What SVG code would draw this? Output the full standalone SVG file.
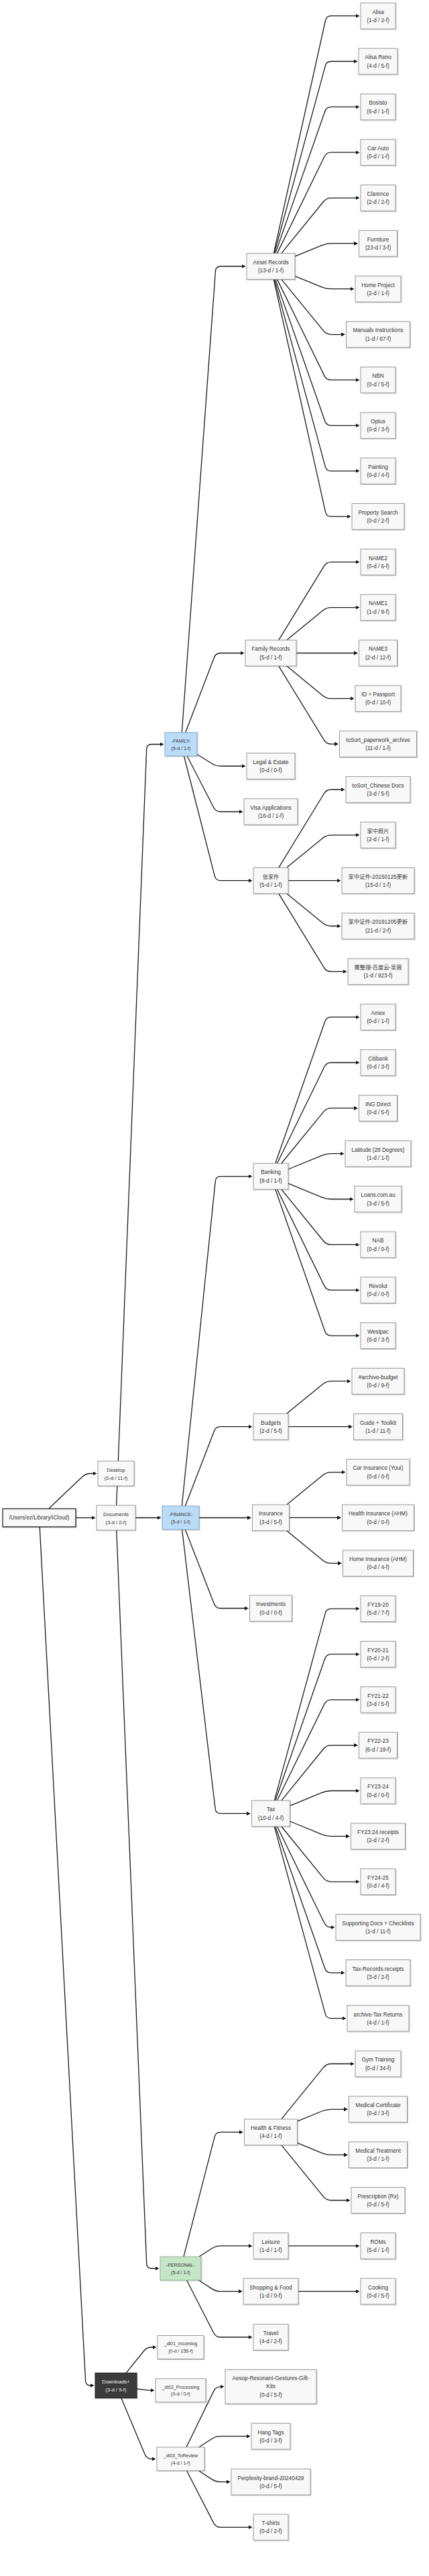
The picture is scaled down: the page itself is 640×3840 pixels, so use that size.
<svg xmlns="http://www.w3.org/2000/svg" width="640" height="3840" viewBox="0 0 640 3840">
<defs>
<style>
.n rect{fill:#f8f8f8;stroke:#999;stroke-width:1;filter:url(#sh)}
.n text{font-family:"Liberation Sans","Noto Sans CJK SC",Arial,sans-serif;font-size:8.2px;fill:#333;text-anchor:middle}
.s text{font-size:7.5px}
.x text{font-size:7px}
.blue rect{fill:#bbdcf8;stroke:#86a6c2}
.green rect{fill:#c6e6c8;stroke:#8fae90}
.dark rect{fill:#3a3a3a;stroke:#222}
.dark text{fill:#f2f2f2}
.root rect{stroke:#333;stroke-width:1.4}
#edges path{fill:none;stroke:#1a1a1a;stroke-width:1.3;marker-end:url(#arr)}
</style>
<filter id="sh" x="-10%" y="-10%" width="130%" height="140%"><feDropShadow dx="0.9" dy="0.9" stdDeviation="0.6" flood-color="#000" flood-opacity="0.25"/></filter>
<marker id="arr" viewBox="0 0 6 6" refX="2" refY="3" markerWidth="6" markerHeight="6" markerUnits="userSpaceOnUse" orient="auto"><path d="M0,0 L6,3 L0,6 z" fill="#111"/></marker>
</defs>
<rect width="640" height="3840" fill="#ffffff"/>
<g id="edges">
<path d="M72.7,2249 L122.9,2201.3 Q128,2196.5 135,2196.5 L140.5,2196.5"/>
<path d="M113,2262.5 L138.5,2262.5"/>
<path d="M59.2,2276 L127.6,3549 Q128,3556 135,3556 L136.5,3556"/>
<path d="M173.7,2244 L218.7,1116.5 Q219,1109.5 226,1109.5 L240.5,1109.5"/>
<path d="M202,2262.5 L236.5,2262.5"/>
<path d="M173.8,2281 L218.7,3374.5 Q219,3381.5 226,3381.5 L233.5,3381.5"/>
<path d="M188.1,3537.3 L214.6,3504.5 Q219,3499 226,3499 L229.5,3499"/>
<path d="M204,3561 L212.1,3562.2 Q219,3563.3 226,3563.3 L226.5,3563.3"/>
<path d="M180.9,3574.7 L216.3,3659 Q219,3665.5 226,3665.5 L228.5,3665.5"/>
<path d="M271.3,1092 L321.5,404 Q322,397 329,397 L362.5,397"/>
<path d="M276.7,1092 L319.5,980 Q322,973.5 329,973.5 L360.5,973.5"/>
<path d="M294,1124.5 L316.1,1138.3 Q322,1142 329,1142 L362.5,1142"/>
<path d="M279.1,1127 L318.8,1203.8 Q322,1210 329,1210 L358.5,1210"/>
<path d="M274.5,1127 L320.3,1305.9 Q322,1312.7 329,1312.7 L372.5,1312.7"/>
<path d="M271.3,2245 L321.3,1760.6 Q322,1753.6 329,1753.6 L372.5,1753.6"/>
<path d="M276.3,2245 L319.5,2133.2 Q322,2126.7 329,2126.7 L372.5,2126.7"/>
<path d="M297,2262.5 L371,2262.5"/>
<path d="M276.3,2280 L319.5,2391 Q322,2397.5 329,2397.5 L366.8,2397.5"/>
<path d="M271.6,2280 L321.2,2696.5 Q322,2703.4 329,2703.4 L369.8,2703.4"/>
<path d="M274,3364 L320.2,3185.1 Q322,3178.3 329,3178.3 L358.8,3178.3"/>
<path d="M296.9,3364 L316.1,3351.7 Q322,3347.9 329,3347.9 L372.5,3347.9"/>
<path d="M296.4,3399 L316.1,3411.9 Q322,3415.7 329,3415.7 L357.8,3415.7"/>
<path d="M278.5,3399 L318.8,3477.8 Q322,3484 329,3484 L372.5,3484"/>
<path d="M278,3648 L318.9,3564.1 Q322,3557.8 329,3557.8 L330.5,3557.8"/>
<path d="M296.7,3648 L316.1,3635.5 Q322,3631.7 329,3631.7 L369.5,3631.7"/>
<path d="M296.4,3683 L316.1,3695.9 Q322,3699.7 329,3699.7 L339.8,3699.7"/>
<path d="M278.5,3683 L318.8,3761.1 Q322,3767.3 329,3767.3 L372.5,3767.3"/>
<path d="M408.3,377.65 L485.5,30.5 Q487,23.7 494,23.7 L532.5,23.7"/>
<path d="M409.3,377.65 L485.2,98.3 Q487,91.5 494,91.5 L529.5,91.5"/>
<path d="M410.8,377.65 L484.7,166 Q487,159.4 494,159.4 L532.5,159.4"/>
<path d="M413.5,377.65 L483.9,233.5 Q487,227.2 494,227.2 L532.5,227.2"/>
<path d="M419.8,377.65 L482.6,300.5 Q487,295.1 494,295.1 L532.5,295.1"/>
<path d="M440,382.2 L480.5,365.6 Q487,362.9 494,362.9 L530,362.9"/>
<path d="M440,411.6 L480.5,428.1 Q487,430.7 494,430.7 L524.5,430.7"/>
<path d="M419.8,416.35 L482.6,493.2 Q487,498.6 494,498.6 L511,498.6"/>
<path d="M413.5,416.35 L483.9,560.1 Q487,566.4 494,566.4 L532.5,566.4"/>
<path d="M410.8,416.35 L484.7,627.7 Q487,634.3 494,634.3 L532.5,634.3"/>
<path d="M409.3,416.35 L485.2,695.3 Q487,702.1 494,702.1 L532.5,702.1"/>
<path d="M408.3,416.35 L485.5,763.1 Q487,769.9 494,769.9 L519.5,769.9"/>
<path d="M415.8,954.15 L483.4,843.8 Q487,837.8 494,837.8 L532.5,837.8"/>
<path d="M427.7,954.15 L481.6,910 Q487,905.6 494,905.6 L532.5,905.6"/>
<path d="M442,973.5 L530,973.5"/>
<path d="M427.7,992.85 L481.6,1036.9 Q487,1041.3 494,1041.3 L524.5,1041.3"/>
<path d="M415.8,992.85 L483.4,1103.1 Q487,1109.1 494,1109.1 L501,1109.1"/>
<path d="M415.8,1293.35 L483.4,1183 Q487,1177 494,1177 L510.5,1177"/>
<path d="M427.7,1293.35 L481.6,1249.2 Q487,1244.8 494,1244.8 L532.5,1244.8"/>
<path d="M430,1312.7 L504.5,1312.7"/>
<path d="M427.7,1332.05 L481.6,1376.1 Q487,1380.5 494,1380.5 L504.5,1380.5"/>
<path d="M415.8,1332.05 L483.4,1442.3 Q487,1448.3 494,1448.3 L513.5,1448.3"/>
<path d="M410.8,1734.25 L484.7,1522.8 Q487,1516.2 494,1516.2 L532.5,1516.2"/>
<path d="M413.5,1734.25 L483.9,1590.3 Q487,1584 494,1584 L532.5,1584"/>
<path d="M419.8,1734.25 L482.6,1657.3 Q487,1651.9 494,1651.9 L530,1651.9"/>
<path d="M430,1743 L480.5,1722.4 Q487,1719.7 494,1719.7 L509.5,1719.7"/>
<path d="M430,1764.2 L480.5,1784.9 Q487,1787.5 494,1787.5 L523.5,1787.5"/>
<path d="M419.8,1772.95 L482.6,1850 Q487,1855.4 494,1855.4 L532.5,1855.4"/>
<path d="M413.5,1772.95 L483.9,1916.9 Q487,1923.2 494,1923.2 L532.5,1923.2"/>
<path d="M410.8,1772.95 L484.7,1984.5 Q487,1991.1 494,1991.1 L532.5,1991.1"/>
<path d="M427.7,2107.35 L481.6,2063.3 Q487,2058.9 494,2058.9 L519.5,2058.9"/>
<path d="M430,2126.7 L522,2126.7"/>
<path d="M427.7,2243.05 L481.6,2199 Q487,2194.6 494,2194.6 L511.5,2194.6"/>
<path d="M431.5,2262.4 L505,2262.4"/>
<path d="M427.7,2281.75 L481.6,2325.9 Q487,2330.3 494,2330.3 L506,2330.3"/>
<path d="M409.3,2684.05 L485.2,2404.9 Q487,2398.1 494,2398.1 L532.5,2398.1"/>
<path d="M410.8,2684.05 L484.7,2472.5 Q487,2465.9 494,2465.9 L532.5,2465.9"/>
<path d="M413.5,2684.05 L483.9,2540.1 Q487,2533.8 494,2533.8 L532.5,2533.8"/>
<path d="M419.8,2684.05 L482.6,2607 Q487,2601.6 494,2601.6 L530,2601.6"/>
<path d="M432.5,2691.8 L480.5,2672.2 Q487,2669.5 494,2669.5 L532.5,2669.5"/>
<path d="M432.5,2715 L480.5,2734.6 Q487,2737.3 494,2737.3 L518,2737.3"/>
<path d="M419.8,2722.75 L482.6,2799.7 Q487,2805.1 494,2805.1 L532.5,2805.1"/>
<path d="M413.5,2722.75 L483.9,2866.7 Q487,2873 494,2873 L495.5,2873"/>
<path d="M410.8,2722.75 L484.7,2934.2 Q487,2940.8 494,2940.8 L510.5,2940.8"/>
<path d="M409.3,2722.75 L485.2,3001.9 Q487,3008.7 494,3008.7 L512.5,3008.7"/>
<path d="M419.8,3158.95 L482.6,3081.9 Q487,3076.5 494,3076.5 L524.5,3076.5"/>
<path d="M443.5,3162.1 L480.5,3147 Q487,3144.3 494,3144.3 L515,3144.3"/>
<path d="M443.5,3194.4 L480.5,3209.6 Q487,3212.2 494,3212.2 L515,3212.2"/>
<path d="M419.8,3197.65 L482.6,3274.6 Q487,3280 494,3280 L518.5,3280"/>
<path d="M430,3347.9 L532.5,3347.9"/>
<path d="M445,3415.7 L532.5,3415.7"/>
</g>

<g id="n-root" class="n root" transform="translate(58.5,2262.5)"><rect x="-54.5" y="-13.5" width="109" height="27"/><text y="2.9">/Users/ez/Library/iCloud)</text></g>
<g id="n-desktop" class="n s" transform="translate(173,2196.5)"><rect x="-27" y="-18.5" width="54" height="37"/><text y="-2.8">Desktop</text><text y="9">(0-d / 11-f)</text></g>
<g id="n-documents" class="n s" transform="translate(173,2262.5)"><rect x="-29" y="-18.5" width="58" height="37"/><text y="-2.8">Documents</text><text y="9">(3-d / 2-f)</text></g>
<g id="n-downloads" class="n s dark" transform="translate(173,3556)"><rect x="-31" y="-18.7" width="62" height="37.4"/><text y="-2.8">Downloads+</text><text y="9">(3-d / 9-f)</text></g>

<g id="n-family" class="n x blue" transform="translate(270,1109.5)"><rect x="-24" y="-17.5" width="48" height="35"/><text y="-2.8">-FAMILY-</text><text y="8.2">(5-d / 1-f)</text></g>
<g id="n-finance" class="n x blue" transform="translate(269.5,2262.5)"><rect x="-27.5" y="-17.5" width="55" height="35"/><text y="-2.8">-FINANCE-</text><text y="8.2">(5-d / 1-f)</text></g>
<g id="n-personal" class="n x green" transform="translate(269.5,3381.5)"><rect x="-30.5" y="-17.5" width="61" height="35"/><text y="-2.8">-PERSONAL-</text><text y="8.2">(5-d / 1-f)</text></g>
<g id="n-dl01" class="n x" transform="translate(269.5,3499)"><rect x="-34.5" y="-17.5" width="69" height="35"/><text y="-2.8">_dl01_Incoming</text><text y="8.2">(0-d / 155-f)</text></g>
<g id="n-dl02" class="n x" transform="translate(269.5,3563.3)"><rect x="-37.5" y="-17.5" width="75" height="35"/><text y="-2.8">_dl02_Processing</text><text y="8.2">(0-d / 0-f)</text></g>
<g id="n-dl03" class="n x" transform="translate(269.5,3665.5)"><rect x="-35.5" y="-17.5" width="71" height="35"/><text y="-2.8">_dl03_ToReview</text><text y="8.2">(4-d / 1-f)</text></g>

<g id="n-asset-records" class="n" transform="translate(404,397)"><rect x="-36" y="-19.35" width="72" height="38.7"/><text y="-3.2">Asset Records</text><text y="9.2">(13-d / 1-f)</text></g>
<g id="n-family-records" class="n" transform="translate(404,973.5)"><rect x="-38" y="-19.35" width="76" height="38.7"/><text y="-3.2">Family Records</text><text y="9.2">(5-d / 1-f)</text></g>
<g id="n-legal" class="n" transform="translate(404,1142)"><rect x="-36" y="-19.35" width="72" height="38.7"/><text y="-3.2">Legal &amp; Estate</text><text y="9.2">(0-d / 0-f)</text></g>
<g id="n-visa" class="n" transform="translate(404,1210)"><rect x="-40" y="-19.35" width="80" height="38.7"/><text y="-3.2">Visa Applications</text><text y="9.2">(16-d / 1-f)</text></g>
<g id="n-zhang" class="n" transform="translate(404,1312.7)"><rect x="-26" y="-19.35" width="52" height="38.7"/><text y="-3.2">张家件</text><text y="9.2">(5-d / 1-f)</text></g>
<g id="n-banking" class="n" transform="translate(404,1753.6)"><rect x="-26" y="-19.35" width="52" height="38.7"/><text y="-3.2">Banking</text><text y="9.2">(8-d / 1-f)</text></g>
<g id="n-budgets" class="n" transform="translate(404,2126.7)"><rect x="-26" y="-19.35" width="52" height="38.7"/><text y="-3.2">Budgets</text><text y="9.2">(2-d / 5-f)</text></g>
<g id="n-insurance" class="n" transform="translate(404,2262.4)"><rect x="-27.5" y="-19.35" width="55" height="38.7"/><text y="-3.2">Insurance</text><text y="9.2">(3-d / 5-f)</text></g>
<g id="n-investments" class="n" transform="translate(404,2397.5)"><rect x="-31.5" y="-19.35" width="63" height="38.7"/><text y="-3.2">Investments</text><text y="9.2">(0-d / 0-f)</text></g>
<g id="n-tax" class="n" transform="translate(404,2703.4)"><rect x="-28.5" y="-19.35" width="57" height="38.7"/><text y="-3.2">Tax</text><text y="9.2">(10-d / 4-f)</text></g>
<g id="n-health" class="n" transform="translate(404,3178.3)"><rect x="-39.5" y="-19.35" width="79" height="38.7"/><text y="-3.2">Health &amp; Fitness</text><text y="9.2">(4-d / 1-f)</text></g>
<g id="n-leisure" class="n" transform="translate(404,3347.9)"><rect x="-26" y="-19.35" width="52" height="38.7"/><text y="-3.2">Leisure</text><text y="9.2">(1-d / 1-f)</text></g>
<g id="n-shopping" class="n" transform="translate(404,3415.7)"><rect x="-41" y="-19.35" width="82" height="38.7"/><text y="-3.2">Shopping &amp; Food</text><text y="9.2">(1-d / 0-f)</text></g>
<g id="n-travel" class="n" transform="translate(404,3484)"><rect x="-26" y="-19.35" width="52" height="38.7"/><text y="-3.2">Travel</text><text y="9.2">(4-d / 2-f)</text></g>
<g id="n-aesop" class="n" transform="translate(404,3557.8)"><rect x="-68" y="-25.5" width="136" height="51"/><text y="-9.6">Aesop-Resonant-Gestures-Gift-</text><text y="2.6">Kits</text><text y="15.1">(0-d / 5-f)</text></g>
<g id="n-hangtags" class="n" transform="translate(404,3631.7)"><rect x="-29" y="-19.35" width="58" height="38.7"/><text y="-3.2">Hang Tags</text><text y="9.2">(0-d / 3-f)</text></g>
<g id="n-perplexity" class="n" transform="translate(404,3699.7)"><rect x="-59" y="-19.35" width="118" height="38.7"/><text y="-3.2">Perplexity-brand-20240429</text><text y="9.2">(0-d / 5-f)</text></g>
<g id="n-tshirts" class="n" transform="translate(404,3767.3)"><rect x="-26" y="-19.35" width="52" height="38.7"/><text y="-3.2">T-shirts</text><text y="9.2">(0-d / 2-f)</text></g>

<g id="n-alisa" class="n" transform="translate(564,23.7)"><rect x="-26" y="-19.35" width="52" height="38.7"/><text y="-3.2">Alisa</text><text y="9.2">(1-d / 2-f)</text></g>
<g id="n-alisa-reno" class="n" transform="translate(564,91.5)"><rect x="-29" y="-19.35" width="58" height="38.7"/><text y="-3.2">Alisa Reno</text><text y="9.2">(4-d / 5-f)</text></g>
<g id="n-bosisto" class="n" transform="translate(564,159.4)"><rect x="-26" y="-19.35" width="52" height="38.7"/><text y="-3.2">Bosisto</text><text y="9.2">(6-d / 1-f)</text></g>
<g id="n-car-auto" class="n" transform="translate(564,227.2)"><rect x="-26" y="-19.35" width="52" height="38.7"/><text y="-3.2">Car Auto</text><text y="9.2">(0-d / 1-f)</text></g>
<g id="n-clarence" class="n" transform="translate(564,295.1)"><rect x="-26" y="-19.35" width="52" height="38.7"/><text y="-3.2">Clarence</text><text y="9.2">(2-d / 2-f)</text></g>
<g id="n-furniture" class="n" transform="translate(564,362.9)"><rect x="-28.5" y="-19.35" width="57" height="38.7"/><text y="-3.2">Furniture</text><text y="9.2">(23-d / 3-f)</text></g>
<g id="n-home-project" class="n" transform="translate(564,430.7)"><rect x="-34" y="-19.35" width="68" height="38.7"/><text y="-3.2">Home Project</text><text y="9.2">(2-d / 1-f)</text></g>
<g id="n-manuals" class="n" transform="translate(564,498.6)"><rect x="-47.5" y="-19.35" width="95" height="38.7"/><text y="-3.2">Manuals Instructions</text><text y="9.2">(1-d / 67-f)</text></g>
<g id="n-nbn" class="n" transform="translate(564,566.4)"><rect x="-26" y="-19.35" width="52" height="38.7"/><text y="-3.2">NBN</text><text y="9.2">(0-d / 5-f)</text></g>
<g id="n-optus" class="n" transform="translate(564,634.3)"><rect x="-26" y="-19.35" width="52" height="38.7"/><text y="-3.2">Optus</text><text y="9.2">(0-d / 3-f)</text></g>
<g id="n-painting" class="n" transform="translate(564,702.1)"><rect x="-26" y="-19.35" width="52" height="38.7"/><text y="-3.2">Painting</text><text y="9.2">(0-d / 4-f)</text></g>
<g id="n-property-search" class="n" transform="translate(564,769.9)"><rect x="-39" y="-19.35" width="78" height="38.7"/><text y="-3.2">Property Search</text><text y="9.2">(0-d / 2-f)</text></g>
<g id="n-name2" class="n" transform="translate(564,837.8)"><rect x="-26" y="-19.35" width="52" height="38.7"/><text y="-3.2">NAME2</text><text y="9.2">(0-d / 6-f)</text></g>
<g id="n-name1" class="n" transform="translate(564,905.6)"><rect x="-26" y="-19.35" width="52" height="38.7"/><text y="-3.2">NAME1</text><text y="9.2">(1-d / 9-f)</text></g>
<g id="n-name3" class="n" transform="translate(564,973.5)"><rect x="-28.5" y="-19.35" width="57" height="38.7"/><text y="-3.2">NAME3</text><text y="9.2">(2-d / 12-f)</text></g>
<g id="n-id-passport" class="n" transform="translate(564,1041.3)"><rect x="-34" y="-19.35" width="68" height="38.7"/><text y="-3.2">ID + Passport</text><text y="9.2">(0-d / 10-f)</text></g>
<g id="n-tosort-paperwork" class="n" transform="translate(564,1109.1)"><rect x="-57.5" y="-19.35" width="115" height="38.7"/><text y="-3.2">toSort_paperwork_archive</text><text y="9.2">(11-d / 1-f)</text></g>
<g id="n-tosort-chinese" class="n" transform="translate(564,1177)"><rect x="-48" y="-19.35" width="96" height="38.7"/><text y="-3.2">toSort_Chinese Docs</text><text y="9.2">(3-d / 5-f)</text></g>
<g id="n-photos" class="n" transform="translate(564,1244.8)"><rect x="-26" y="-19.35" width="52" height="38.7"/><text y="-3.2">家中照片</text><text y="9.2">(2-d / 1-f)</text></g>
<g id="n-docs-2015" class="n" transform="translate(564,1312.7)"><rect x="-54" y="-19.35" width="108" height="38.7"/><text y="-3.2">家中证件-20150125更新</text><text y="9.2">(15-d / 1-f)</text></g>
<g id="n-docs-2019" class="n" transform="translate(564,1380.5)"><rect x="-54" y="-19.35" width="108" height="38.7"/><text y="-3.2">家中证件-20191205更新</text><text y="9.2">(21-d / 2-f)</text></g>
<g id="n-baidu" class="n" transform="translate(564,1448.3)"><rect x="-45" y="-19.35" width="90" height="38.7"/><text y="-3.2">需整理-百度云-吴薇</text><text y="9.2">(1-d / 923-f)</text></g>
<g id="n-amex" class="n" transform="translate(564,1516.2)"><rect x="-26" y="-19.35" width="52" height="38.7"/><text y="-3.2">Amex</text><text y="9.2">(0-d / 1-f)</text></g>
<g id="n-citibank" class="n" transform="translate(564,1584)"><rect x="-26" y="-19.35" width="52" height="38.7"/><text y="-3.2">Citibank</text><text y="9.2">(0-d / 3-f)</text></g>
<g id="n-ing" class="n" transform="translate(564,1651.9)"><rect x="-28.5" y="-19.35" width="57" height="38.7"/><text y="-3.2">ING Direct</text><text y="9.2">(0-d / 5-f)</text></g>
<g id="n-latitude" class="n" transform="translate(564,1719.7)"><rect x="-49" y="-19.35" width="98" height="38.7"/><text y="-3.2">Latitude (28 Degrees)</text><text y="9.2">(1-d / 1-f)</text></g>
<g id="n-loans" class="n" transform="translate(564,1787.5)"><rect x="-35" y="-19.35" width="70" height="38.7"/><text y="-3.2">Loans.com.au</text><text y="9.2">(3-d / 5-f)</text></g>
<g id="n-nab" class="n" transform="translate(564,1855.4)"><rect x="-26" y="-19.35" width="52" height="38.7"/><text y="-3.2">NAB</text><text y="9.2">(0-d / 0-f)</text></g>
<g id="n-revolut" class="n" transform="translate(564,1923.2)"><rect x="-26" y="-19.35" width="52" height="38.7"/><text y="-3.2">Revolut</text><text y="9.2">(0-d / 0-f)</text></g>
<g id="n-westpac" class="n" transform="translate(564,1991.1)"><rect x="-26" y="-19.35" width="52" height="38.7"/><text y="-3.2">Westpac</text><text y="9.2">(0-d / 3-f)</text></g>
<g id="n-archive-budget" class="n" transform="translate(564,2058.9)"><rect x="-39" y="-19.35" width="78" height="38.7"/><text y="-3.2">#archive-budget</text><text y="9.2">(0-d / 9-f)</text></g>
<g id="n-guide" class="n" transform="translate(564,2126.7)"><rect x="-36.5" y="-19.35" width="73" height="38.7"/><text y="-3.2">Guide + Toolkit</text><text y="9.2">(1-d / 11-f)</text></g>
<g id="n-car-ins" class="n" transform="translate(564,2194.6)"><rect x="-47" y="-19.35" width="94" height="38.7"/><text y="-3.2">Car Insurance (Youi)</text><text y="9.2">(0-d / 0-f)</text></g>
<g id="n-health-ins" class="n" transform="translate(564,2262.4)"><rect x="-53.5" y="-19.35" width="107" height="38.7"/><text y="-3.2">Health Insurance (AHM)</text><text y="9.2">(0-d / 0-f)</text></g>
<g id="n-home-ins" class="n" transform="translate(564,2330.3)"><rect x="-52.5" y="-19.35" width="105" height="38.7"/><text y="-3.2">Home Insurance (AHM)</text><text y="9.2">(0-d / 4-f)</text></g>
<g id="n-fy1920" class="n" transform="translate(564,2398.1)"><rect x="-26" y="-19.35" width="52" height="38.7"/><text y="-3.2">FY19-20</text><text y="9.2">(5-d / 7-f)</text></g>
<g id="n-fy2021" class="n" transform="translate(564,2465.9)"><rect x="-26" y="-19.35" width="52" height="38.7"/><text y="-3.2">FY20-21</text><text y="9.2">(0-d / 2-f)</text></g>
<g id="n-fy2122" class="n" transform="translate(564,2533.8)"><rect x="-26" y="-19.35" width="52" height="38.7"/><text y="-3.2">FY21-22</text><text y="9.2">(3-d / 5-f)</text></g>
<g id="n-fy2223" class="n" transform="translate(564,2601.6)"><rect x="-28.5" y="-19.35" width="57" height="38.7"/><text y="-3.2">FY22-23</text><text y="9.2">(6-d / 19-f)</text></g>
<g id="n-fy2324" class="n" transform="translate(564,2669.5)"><rect x="-26" y="-19.35" width="52" height="38.7"/><text y="-3.2">FY23-24</text><text y="9.2">(0-d / 0-f)</text></g>
<g id="n-fy2324r" class="n" transform="translate(564,2737.3)"><rect x="-40.5" y="-19.35" width="81" height="38.7"/><text y="-3.2">FY23:24.receipts</text><text y="9.2">(2-d / 2-f)</text></g>
<g id="n-fy2425" class="n" transform="translate(564,2805.1)"><rect x="-26" y="-19.35" width="52" height="38.7"/><text y="-3.2">FY24-25</text><text y="9.2">(0-d / 4-f)</text></g>
<g id="n-supporting" class="n" transform="translate(564,2873)"><rect x="-63" y="-19.35" width="126" height="38.7"/><text y="-3.2">Supporting Docs + Checklists</text><text y="9.2">(1-d / 11-f)</text></g>
<g id="n-tax-records" class="n" transform="translate(564,2940.8)"><rect x="-48" y="-19.35" width="96" height="38.7"/><text y="-3.2">Tax-Records.receipts</text><text y="9.2">(3-d / 2-f)</text></g>
<g id="n-archive-tax" class="n" transform="translate(564,3008.7)"><rect x="-46" y="-19.35" width="92" height="38.7"/><text y="-3.2">archive-Tax Returns</text><text y="9.2">(4-d / 1-f)</text></g>
<g id="n-gym" class="n" transform="translate(564,3076.5)"><rect x="-34" y="-19.35" width="68" height="38.7"/><text y="-3.2">Gym Training</text><text y="9.2">(0-d / 34-f)</text></g>
<g id="n-med-cert" class="n" transform="translate(564,3144.3)"><rect x="-43.5" y="-19.35" width="87" height="38.7"/><text y="-3.2">Medical Certificate</text><text y="9.2">(0-d / 3-f)</text></g>
<g id="n-med-treat" class="n" transform="translate(564,3212.2)"><rect x="-43.5" y="-19.35" width="87" height="38.7"/><text y="-3.2">Medical Treatment</text><text y="9.2">(3-d / 1-f)</text></g>
<g id="n-rx" class="n" transform="translate(564,3280)"><rect x="-40" y="-19.35" width="80" height="38.7"/><text y="-3.2">Prescription (Rx)</text><text y="9.2">(0-d / 5-f)</text></g>
<g id="n-roms" class="n" transform="translate(564,3347.9)"><rect x="-26" y="-19.35" width="52" height="38.7"/><text y="-3.2">ROMs</text><text y="9.2">(5-d / 1-f)</text></g>
<g id="n-cooking" class="n" transform="translate(564,3415.7)"><rect x="-26" y="-19.35" width="52" height="38.7"/><text y="-3.2">Cooking</text><text y="9.2">(0-d / 5-f)</text></g>
</svg>
